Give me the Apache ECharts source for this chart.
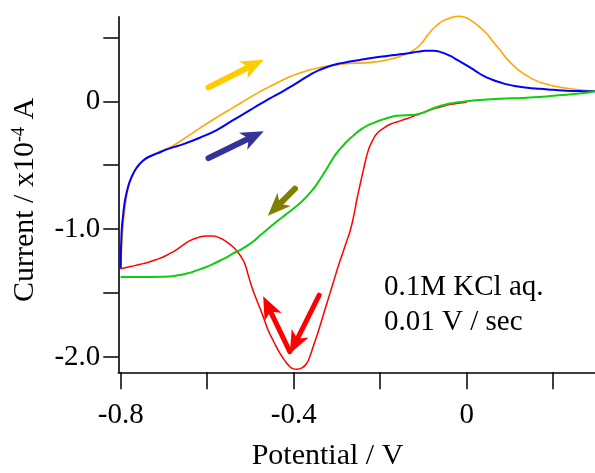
<!DOCTYPE html>
<html>
<head>
<meta charset="utf-8">
<script src="https://cdn.jsdelivr.net/npm/echarts@6/dist/echarts.min.js"></script>
<style>
html,body{margin:0;padding:0;background:#fff;}
#chart{width:595px;height:473px;}
</style>
</head>
<body>
<div id="chart"></div>
<script>
// ---- Data (potential in V, current in x10^-4 A) ----
// 1st cycle, forward (anodic) sweep
const orangeE = [-0.800,-0.797,-0.794,-0.788,-0.782,-0.772,-0.763,-0.745,-0.725,-0.700,-0.678,-0.650,-0.617,-0.594,-0.565,-0.540,-0.501,-0.478,-0.455,-0.430,-0.409,-0.385,-0.362,-0.340,-0.316,-0.290,-0.270,-0.240,-0.210,-0.177,-0.154,-0.131,-0.108,-0.085,-0.070,-0.054,-0.035,-0.019,0.000,0.015,0.030,0.046,0.060,0.077,0.092,0.108,0.123,0.139,0.158,0.177,0.200,0.223,0.260,0.297];
const orangeI = [-1.31,-1.10,-0.95,-0.78,-0.67,-0.58,-0.515,-0.46,-0.418,-0.38,-0.346,-0.285,-0.21,-0.16,-0.10,-0.05,0.03,0.075,0.115,0.158,0.192,0.222,0.246,0.264,0.278,0.29,0.296,0.300,0.308,0.328,0.352,0.382,0.44,0.54,0.59,0.63,0.655,0.664,0.65,0.62,0.58,0.53,0.47,0.40,0.335,0.28,0.235,0.20,0.165,0.14,0.12,0.105,0.09,0.078];
// 2nd cycle, forward sweep
const blueE = [-0.800,-0.798,-0.794,-0.790,-0.783,-0.775,-0.763,-0.748,-0.732,-0.717,-0.690,-0.655,-0.617,-0.578,-0.540,-0.501,-0.478,-0.455,-0.430,-0.409,-0.385,-0.362,-0.340,-0.316,-0.290,-0.270,-0.247,-0.224,-0.200,-0.177,-0.154,-0.131,-0.116,-0.095,-0.077,-0.058,-0.039,-0.020,0.000,0.019,0.038,0.058,0.077,0.096,0.116,0.140,0.169,0.200,0.231,0.265,0.297];
const blueI = [-1.31,-1.03,-0.88,-0.775,-0.67,-0.593,-0.52,-0.463,-0.43,-0.41,-0.372,-0.335,-0.285,-0.225,-0.148,-0.07,-0.022,0.022,0.068,0.11,0.16,0.207,0.245,0.276,0.298,0.31,0.323,0.336,0.347,0.357,0.367,0.378,0.386,0.394,0.395,0.382,0.356,0.32,0.28,0.24,0.20,0.17,0.148,0.13,0.117,0.105,0.097,0.09,0.083,0.08,0.078];
// 1st cycle, reverse (cathodic) sweep
const redE = [0.000,-0.020,-0.039,-0.060,-0.077,-0.097,-0.116,-0.139,-0.160,-0.177,-0.192,-0.208,-0.218,-0.228,-0.239,-0.246,-0.254,-0.262,-0.270,-0.277,-0.287,-0.297,-0.306,-0.316,-0.326,-0.335,-0.345,-0.355,-0.362,-0.370,-0.381,-0.393,-0.402,-0.409,-0.420,-0.432,-0.446,-0.459,-0.472,-0.486,-0.496,-0.505,-0.513,-0.520,-0.528,-0.540,-0.555,-0.570,-0.586,-0.601,-0.620,-0.640,-0.660,-0.678,-0.697,-0.717,-0.736,-0.755,-0.777,-0.800];
const redI = [-0.008,-0.015,-0.026,-0.045,-0.058,-0.083,-0.108,-0.137,-0.16,-0.18,-0.21,-0.254,-0.31,-0.39,-0.54,-0.645,-0.77,-0.91,-1.02,-1.09,-1.19,-1.29,-1.39,-1.50,-1.61,-1.71,-1.82,-1.92,-1.99,-2.05,-2.085,-2.095,-2.09,-2.075,-2.03,-1.97,-1.88,-1.79,-1.67,-1.55,-1.46,-1.36,-1.27,-1.225,-1.185,-1.14,-1.10,-1.07,-1.054,-1.053,-1.064,-1.09,-1.135,-1.175,-1.21,-1.237,-1.258,-1.275,-1.292,-1.31];
// 2nd cycle, reverse sweep
const greenE = [0.297,0.285,0.231,0.154,0.131,0.077,0.030,0.000,-0.020,-0.039,-0.062,-0.077,-0.095,-0.116,-0.140,-0.162,-0.177,-0.193,-0.212,-0.231,-0.245,-0.258,-0.270,-0.282,-0.293,-0.305,-0.316,-0.324,-0.339,-0.350,-0.362,-0.380,-0.401,-0.420,-0.439,-0.462,-0.478,-0.493,-0.510,-0.524,-0.540,-0.555,-0.570,-0.586,-0.605,-0.624,-0.645,-0.671,-0.700,-0.732,-0.770,-0.800];
const greenI = [0.078,0.07,0.05,0.031,0.026,0.019,0.01,0.000,-0.008,-0.018,-0.038,-0.055,-0.082,-0.103,-0.11,-0.114,-0.125,-0.142,-0.165,-0.192,-0.222,-0.257,-0.292,-0.332,-0.375,-0.425,-0.485,-0.53,-0.61,-0.665,-0.715,-0.78,-0.84,-0.89,-0.94,-1.005,-1.05,-1.095,-1.135,-1.163,-1.19,-1.22,-1.245,-1.272,-1.30,-1.322,-1.345,-1.363,-1.372,-1.373,-1.373,-1.373];

// Sweep-direction arrows: [tailE, tailI, headE, headI]
const arrowYellow = [-0.597, 0.109, -0.493, 0.285];
const arrowNavy   = [-0.597, -0.445, -0.493, -0.274];
const arrowOlive  = [-0.397, -0.683, -0.441, -0.831];
const arrowRedUp  = [-0.409, -1.958, -0.459, -1.606];
const arrowRedDown= [-0.341, -1.516, -0.397, -1.894];

// Axis ticks / labels
const xTicks = [-0.8,-0.6,-0.4,-0.2,0,0.2];
const xLabels = [-0.8,-0.4,0];
const yTicks = [-2,-1.5,-1,-0.5,0,0.5];
const yLabels = [-2,-1,0];

const pair = (E, I) => E.map((e, i) => [e, I[i]]);
const FONT = 'Liberation Serif';
// notched arrow head, tip at top; the two degenerate sub-paths only widen its box to a square
const HEAD = 'path://M10,0L19,22L10,16L1,22Z M-1,0L-1,0.01Z M21,0L21,0.01Z';

function lineSeries(E, I, color, width) {
  return {
    type: 'line', data: pair(E, I), showSymbol: false, symbol: 'none',
    smooth: 0.5, clip: false,
    lineStyle: { color: color, width: width }, silent: true
  };
}
function arrowSeries(a, color, width) {
  return {
    type: 'lines', coordinateSystem: 'cartesian2d', silent: true, z: 5,
    symbol: ['none', HEAD], symbolSize: 23,
    lineStyle: { color: color, width: width, opacity: 1, cap: 'round' },
    itemStyle: { color: color },
    data: [{ coords: [[a[0], a[1]], [a[2], a[3]]] }]
  };
}

const chart = echarts.init(document.getElementById('chart'), null, { renderer: 'canvas' });
chart.setOption({
  animation: false,
  backgroundColor: '#fff',
  grid: { left: 118.3, right: 0, top: 16.7, bottom: 100.7, containLabel: false },
  xAxis: {
    type: 'value', min: -0.8055, max: 0.2967,
    splitLine: { show: false },
    axisLine: { show: true, onZero: false, lineStyle: { color: '#000', width: 1.6 } },
    axisTick: { show: true, customValues: xTicks, length: 17, lineStyle: { color: '#000', width: 1.5 } },
    axisLabel: { customValues: xLabels, margin: 29, color: '#000', fontFamily: FONT, fontSize: 29,
      formatter: v => (Math.abs(v) < 1e-9 ? '0' : v.toFixed(1)) }
  },
  yAxis: {
    type: 'value', min: -2.119, max: 0.661,
    splitLine: { show: false },
    axisLine: { show: true, onZero: false, lineStyle: { color: '#000', width: 1.6 } },
    axisTick: { show: true, customValues: yTicks, length: 15, lineStyle: { color: '#000', width: 1.5 } },
    axisLabel: { customValues: yLabels, margin: 18, color: '#000', fontFamily: FONT, fontSize: 29,
      formatter: v => (Math.abs(v) < 1e-9 ? '0' : v.toFixed(1)) }
  },
  graphic: [
    { type: 'text', x: 25, y: 200, rotation: Math.PI / 2, silent: true,
      style: { text: '{a|Current / x10}{s|-4}{a| A}', align: 'center', verticalAlign: 'middle',
        rich: { a: { fontFamily: FONT, fontSize: 30, lineHeight: 30, fill: '#000' },
                s: { fontFamily: FONT, fontSize: 18, lineHeight: 30, verticalAlign: 'top', fill: '#000' } } } },
    { type: 'text', x: 327.5, y: 456.5, silent: true,
      style: { text: 'Potential / V', fontFamily: FONT, fontSize: 30, fill: '#000', align: 'center', verticalAlign: 'middle' } },
    { type: 'text', x: 384, y: 287.5, silent: true,
      style: { text: '0.1M KCl aq.', fontFamily: FONT, fontSize: 29, fill: '#000', align: 'left', verticalAlign: 'middle' } },
    { type: 'text', x: 384, y: 322.5, silent: true,
      style: { text: '0.01 V / sec', fontFamily: FONT, fontSize: 29, fill: '#000', align: 'left', verticalAlign: 'middle' } }
  ],
  series: [
    lineSeries(orangeE, orangeI, '#FFA800', 1.6),
    lineSeries(blueE, blueI, '#0000FF', 2),
    lineSeries(redE, redI, '#FF0000', 1.5),
    lineSeries(greenE, greenI, '#11CC11', 2),
    arrowSeries(arrowYellow, '#FFCC00', 6),
    arrowSeries(arrowNavy, '#333399', 6),
    arrowSeries(arrowOlive, '#808000', 6),
    arrowSeries(arrowRedUp, '#FF0000', 5),
    arrowSeries(arrowRedDown, '#FF0000', 5)
  ]
});
</script>
</body>
</html>
